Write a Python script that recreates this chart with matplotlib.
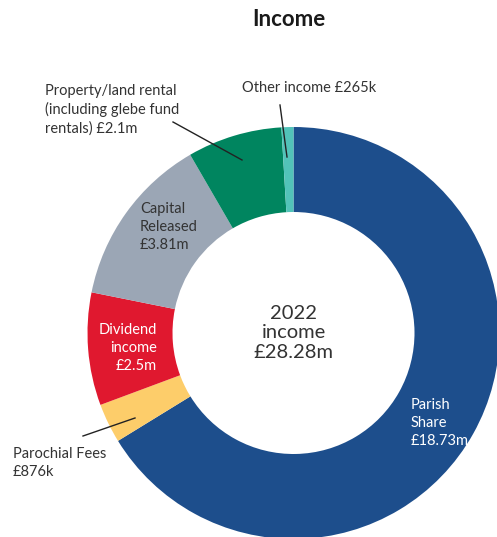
import matplotlib
matplotlib.use("Agg")
import matplotlib.pyplot as plt

# income 2022, £m, clockwise from 12 o'clock
categories = ["Parish Share", "Parochial Fees", "Dividend income",
              "Capital Released", "Property/land rental", "Other income"]
values = [18.73, 0.876, 2.5, 3.81, 2.1, 0.265]
colors = ["#1d4e8c", "#fdcd6a", "#e0182f", "#9ba6b5", "#00855f", "#52c3b9"]

W, H = 497, 537
plt.rcParams["font.family"] = ["Lato", "DejaVu Sans"]

fig = plt.figure(figsize=(W / 100, H / 100), dpi=100)
ax = fig.add_axes([0, 0, 1, 1])
ax.set_xlim(0, W)
ax.set_ylim(0, H)
ax.set_aspect("equal")
ax.axis("off")


def Y(py):
    # pixel row (from top) to data y
    return H - py


cx, cy = 293.5, Y(333)
ax.pie(values, colors=colors, startangle=90, counterclock=False,
       center=(cx, cy), radius=206,
       wedgeprops=dict(width=85, linewidth=0))
ax.set_xlim(0, W)
ax.set_ylim(0, H)

dark = "#333333"
fs = 10.5

ax.text(289, Y(19), "Income", ha="center", va="center",
        fontsize=16, fontweight="bold", color="#1a1a1a")

ax.text(cx, Y(333), "2022\nincome\n£28.28m", ha="center", va="center",
        fontsize=14.5, color=dark, linespacing=1.15)

ax.text(45, Y(110), "Property/land rental\n(including glebe fund\nrentals) £2.1m",
        ha="left", va="center", fontsize=fs, color=dark, linespacing=1.35)
ax.plot([173, 242], [Y(122), Y(160)], color="#222222", lw=1)

ax.text(242, Y(88), "Other income £265k", ha="left", va="center",
        fontsize=fs, color=dark)
ax.plot([280, 287], [Y(105), Y(157)], color="#222222", lw=1)

ax.text(140, Y(227), "Capital\nReleased\n£3.81m", ha="left", va="center",
        fontsize=fs, color=dark, linespacing=1.35)

ax.text(157, Y(348), "Dividend\nincome\n£2.5m", ha="right", va="center",
        fontsize=fs, color="white", linespacing=1.35)

ax.text(13, Y(463), "Parochial Fees\n£876k", ha="left", va="center",
        fontsize=fs, color=dark, linespacing=1.35)
ax.plot([83, 135], [Y(436), Y(418)], color="#222222", lw=1)

ax.text(411, Y(423), "Parish\nShare\n£18.73m", ha="left", va="center",
        fontsize=fs, color="white", linespacing=1.35)

fig.savefig("out.png", dpi=100)
